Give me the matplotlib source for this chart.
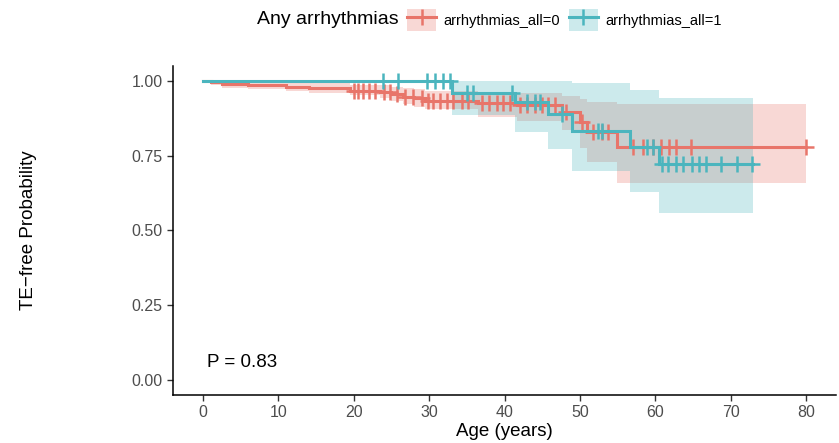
import numpy as np
import matplotlib
matplotlib.use("Agg")
import matplotlib.pyplot as plt
from matplotlib.patches import Patch
from matplotlib.lines import Line2D
from matplotlib.legend_handler import HandlerTuple

plt.rcParams['font.family'] = ['Liberation Sans', 'DejaVu Sans']

# === Group 0 (arrhythmias_all=0): KM steps, CI, censor times ===
t0 = [0, 1.0, 2.5, 6, 11, 14, 19.5, 23.5, 25, 26.5, 28, 29.5, 36.5, 41.6, 47.6, 50.0, 50.9, 54.9, 80]
s0 = [1.0, 0.995, 0.990, 0.985, 0.980, 0.975, 0.968, 0.962, 0.955, 0.948, 0.942, 0.933,
      0.925, 0.920, 0.895, 0.862, 0.828, 0.780, 0.780]
lo0 = [1.0, 0.985, 0.978, 0.972, 0.966, 0.960, 0.952, 0.942, 0.932, 0.922, 0.914, 0.906,
       0.878, 0.866, 0.835, 0.775, 0.730, 0.658, 0.658]
hi0 = [1.0, 1.0, 1.0, 0.998, 0.995, 0.992, 0.988, 0.985, 0.980, 0.976, 0.972, 0.967,
       0.962, 0.960, 0.950, 0.940, 0.930, 0.924, 0.924]
cens0 = [20.0, 20.6, 21.2, 22.0, 22.8, 24.0, 24.8, 25.7, 26.8, 27.9, 29.0, 29.8, 30.5, 31.4,
         32.4, 33.2, 34.4, 35.2, 37.0, 38.0, 39.0, 39.8, 40.7, 42.0, 43.0, 44.0, 45.0, 45.8,
         46.7, 48.2, 50.3, 51.7, 52.9, 53.7, 57.0, 58.4, 59.7, 60.8, 61.8, 62.7, 64.8, 80.0]

# === Group 1 (arrhythmias_all=1) ===
t1 = [0, 33.0, 41.4, 45.8, 49.0, 56.6, 60.5, 73.0]
s1 = [1.0, 0.961, 0.928, 0.890, 0.833, 0.780, 0.724, 0.724]
lo1 = [1.0, 0.887, 0.830, 0.773, 0.700, 0.630, 0.558, 0.558]
hi1 = [1.0, 1.0, 1.0, 1.0, 0.992, 0.970, 0.944, 0.944]
cens1 = [23.9, 25.9, 29.7, 30.8, 31.8, 32.8, 35.0, 35.8, 41.0, 43.0, 44.0, 44.7, 47.6,
         52.4, 52.9, 58.9, 59.7, 60.9, 61.7, 62.7, 63.7, 64.9, 65.8, 66.8, 68.8, 70.8, 72.8]

groups = ["arrhythmias_all=0", "arrhythmias_all=1"]
line_colors = ["#E8756A", "#4BB5BE"]
xticks = [0, 10, 20, 30, 40, 50, 60, 70, 80]
yticks = [0.0, 0.25, 0.5, 0.75, 1.0]
pval_text = "P = 0.83"

fig = plt.figure(figsize=(8.39, 4.43), dpi=100)
ax = fig.add_axes([173/839, 1 - 395/443, 663/839, 329/443])

series = [(t0, s0, lo0, hi0, cens0), (t1, s1, lo1, hi1, cens1)]
for (t, s, lo, hi, cens), col in zip(series, line_colors):
    t = np.array(t); s = np.array(s)
    ax.fill_between(t, lo, hi, step='post', color=col, alpha=0.28, lw=0)
    ax.step(t, s, where='post', color=col, lw=2.2, solid_joinstyle='miter')
    idx = np.searchsorted(t, cens, side='right') - 1
    ax.plot(cens, s[idx], ls='none', marker='+', ms=11, mew=1.8, color=col)

ax.set_xlim(-4, 84)
ax.set_ylim(-0.05, 1.05)
ax.set_xticks(xticks)
ax.set_yticks(yticks)
ax.set_yticklabels([f"{v:.2f}" for v in yticks])
for sp in ['top', 'right']:
    ax.spines[sp].set_visible(False)
for sp in ['left', 'bottom']:
    ax.spines[sp].set_linewidth(1.1)
ax.tick_params(direction='out', length=4, width=1, colors='#333333', labelcolor='#4D4D4D', labelsize=11.5)

ax.set_xlabel("Age (years)", fontsize=13.5, labelpad=2)
ax.set_ylabel("TE\u2212free Probability", fontsize=13.5)
ax.yaxis.set_label_coords(-0.205, 0.5)

ax.text(0.5, 0.06, pval_text, fontsize=13.5, ha='left', va='center')

# === Legend on top ===
fig.text(399/839, 1 - 20/443, "Any arrhythmias", fontsize=14, ha='right', va='center')
handles = [(Patch(facecolor=c, alpha=0.28, lw=0),
            Line2D([], [], color=c, lw=2.2, marker='+', ms=11, mew=1.8)) for c in line_colors]
fig.legend(handles, groups, loc='center left', bbox_to_anchor=(407/839, 1 - 20/443),
           ncol=2, frameon=False, fontsize=10.5, handlelength=2.0, handleheight=1.9,
           handletextpad=0.5, columnspacing=0.6, borderpad=0, borderaxespad=0,
           handler_map={tuple: HandlerTuple(ndivide=1, pad=0)})

fig.savefig("out.png", dpi=100)
